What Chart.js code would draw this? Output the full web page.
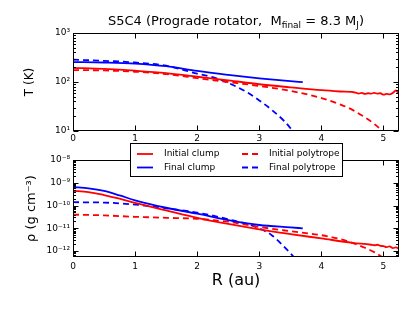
<!DOCTYPE html>
<html>
<head>
<meta charset="utf-8">
<script src="https://cdn.jsdelivr.net/npm/chart.js@4.4.1/dist/chart.umd.min.js"></script>
<style>
body { margin: 0; background: #fff; width: 415px; height: 312px; position: relative; overflow: hidden; }
canvas { position: absolute; left: 0; }
#tempChart { top: 0; }
#rhoChart { top: 140px; }
</style>
</head>
<body>
<canvas id="tempChart" width="415" height="150"></canvas>
<canvas id="rhoChart" width="415" height="172"></canvas>
<script>
// tick labels
var xTicks = [0, 1, 2, 3, 4, 5];
var tempTicks = [1e1, 1e2, 1e3];
var rhoTicks = [1e-12, 1e-11, 1e-10, 1e-9, 1e-8];

// series names (legend)
var seriesLabels = ["Initial clump", "Final clump", "Initial polytrope", "Final polytrope"];

// temperature, T (K) against R (au)
var rTempInitClump = [0, 0.5, 1, 1.5, 2, 2.5, 3, 3.5, 4, 4.3, 4.55, 4.6, 4.65, 4.7, 4.75, 4.8, 4.85, 4.9, 4.95, 5.0, 5.05, 5.1, 5.15, 5.2, 5.25];
var tempInitClump = [195, 185, 170, 152, 128, 108, 90, 78, 68, 64, 61, 58, 60, 57, 59, 58, 60, 58, 59, 55, 57, 56, 60, 67, 56];
var rTempFinalClump = [0, 0.5, 1, 1.5, 2, 2.5, 3, 3.5, 3.7];
var tempFinalClump = [255, 250, 238, 210, 168, 140, 119, 104, 99];
var rTempInitPoly = [0, 0.5, 1, 1.5, 2, 2.5, 3, 3.5, 4, 4.3, 4.5, 4.7, 4.85, 5.0, 5.1];
var tempInitPoly = [175, 172, 162, 145, 120, 100, 83, 66, 47, 35, 27, 19, 14, 9.5, 7];
var rTempFinalPoly = [0, 0.5, 1, 1.5, 2, 2.3, 2.5, 2.8, 3, 3.2, 3.4, 3.5, 3.6];
var tempFinalPoly = [285, 270, 250, 215, 148, 120, 96, 62, 42, 27, 16, 11.5, 8];

// density, rho (g cm^-3) against R (au)
var rRhoInitClump = [0, 0.25, 0.5, 0.75, 1, 1.5, 2, 2.5, 3, 3.5, 4, 4.5, 4.8, 4.85, 4.9, 4.95, 5.0, 5.05, 5.1, 5.15, 5.2, 5.25];
var rhoInitClump = [4.4e-10, 3.9e-10, 2.9e-10, 2.0e-10, 1.3e-10, 6.1e-11, 2.9e-11, 1.55e-11, 9e-12, 5.6e-12, 3.6e-12, 2.3e-12, 1.9e-12, 1.8e-12, 1.9e-12, 1.7e-12, 1.65e-12, 1.5e-12, 1.6e-12, 1.35e-12, 1.45e-12, 1.25e-12];
var rRhoFinalClump = [0, 0.25, 0.5, 0.75, 1, 1.5, 2, 2.5, 3, 3.5, 3.7];
var rhoFinalClump = [6.5e-10, 5.7e-10, 4.4e-10, 2.8e-10, 1.7e-10, 8e-11, 4.4e-11, 2.3e-11, 1.4e-11, 1.1e-11, 1.0e-11];
var rRhoInitPoly = [0, 0.5, 1, 1.5, 2, 2.5, 3, 3.5, 4, 4.3, 4.5, 4.7, 4.85, 5.0, 5.1];
var rhoInitPoly = [4e-11, 3.7e-11, 3.2e-11, 2.9e-11, 2.6e-11, 1.95e-11, 1.15e-11, 7.5e-12, 5e-12, 3.4e-12, 2.3e-12, 1.4e-12, 9e-13, 5.2e-13, 4e-13];
var rRhoFinalPoly = [0, 0.5, 1, 1.5, 2, 2.5, 3, 3.2, 3.4, 3.5, 3.6];
var rhoFinalPoly = [1.4e-10, 1.35e-10, 1.1e-10, 7.6e-11, 4.9e-11, 2.5e-11, 1e-11, 5e-12, 1.55e-12, 8e-13, 4e-13];

var FONT = '"DejaVu Sans", "Liberation Sans", sans-serif';
var RED = "#ff0000", BLUE = "#0000ff";

var supMap = { "-": "\u207b", "0": "\u2070", "1": "\u00b9", "2": "\u00b2", "3": "\u00b3", "4": "\u2074",
    "5": "\u2075", "6": "\u2076", "7": "\u2077", "8": "\u2078", "9": "\u2079" };

function powLabel(v) {
    var e = String(Math.round(Math.log10(v)));
    return "10" + e.split("").map(function (c) { return supMap[c]; }).join("");
}

function pairs(xs, ys) {
    return xs.map(function (x, i) { return { x: x, y: ys[i] }; });
}

function series(label, xs, ys, color, dashed) {
    return {
        label: label,
        data: pairs(xs, ys),
        borderColor: color,
        backgroundColor: color,
        borderWidth: 1.8,
        borderDash: dashed ? [6, 4] : [],
        pointRadius: 0,
        fill: false,
        cubicInterpolationMode: "monotone"
    };
}

// box round the plot, with inward ticks on all four sides (log minors on y)
var frameTicks = {
    id: "frameTicks",
    afterDatasetsDraw: function (chart) {
        var ctx = chart.ctx, a = chart.chartArea;
        var xs = chart.scales.x, ys = chart.scales.y;
        var L = Math.round(a.left) + 0.5, R = Math.round(a.right) - 0.5;
        var T = Math.round(a.top) + 0.5, B = Math.round(a.bottom) - 0.5;
        ctx.save();
        ctx.strokeStyle = "#000";
        ctx.lineWidth = 1;
        ctx.beginPath();
        xTicks.forEach(function (v) {
            var px = Math.round(xs.getPixelForValue(v)) + 0.5;
            ctx.moveTo(px, B); ctx.lineTo(px, B - 5);
            ctx.moveTo(px, T); ctx.lineTo(px, T + 5);
        });
        var lo = Math.floor(Math.log10(ys.min)), hi = Math.ceil(Math.log10(ys.max));
        for (var e = lo; e <= hi; e++) {
            for (var k = 1; k < 10; k++) {
                var v = k * Math.pow(10, e);
                if (v < ys.min * 0.999 || v > ys.max * 1.001) continue;
                var py = Math.round(ys.getPixelForValue(v)) + 0.5;
                var len = k === 1 ? 5 : 2.5;
                ctx.moveTo(L, py); ctx.lineTo(L + len, py);
                ctx.moveTo(R, py); ctx.lineTo(R - len, py);
            }
        }
        ctx.stroke();
        ctx.strokeRect(L, T, R - L, B - T);
        ctx.restore();
    }
};

// title with subscripts
var titleParts = [
    { t: "S5C4 (Prograde rotator,  M" },
    { t: "final", sub: true },
    { t: " = 8.3 M" },
    { t: "J", sub: true },
    { t: ")" }
];
var subTitle = {
    id: "subTitle",
    afterDraw: function (chart) {
        var ctx = chart.ctx, a = chart.chartArea;
        ctx.save();
        ctx.fillStyle = "#000";
        ctx.textBaseline = "alphabetic";
        var w = 0;
        titleParts.forEach(function (p) {
            ctx.font = (p.sub ? "9px " : "13px ") + FONT;
            p.w = ctx.measureText(p.t).width;
            w += p.w;
        });
        var x = (a.left + a.right) / 2 - w / 2;
        titleParts.forEach(function (p) {
            ctx.font = (p.sub ? "9px " : "13px ") + FONT;
            ctx.fillText(p.t, x, p.sub ? 28 : 25);
            x += p.w;
        });
        ctx.restore();
    }
};

// legend box sitting across the gap between the panels
var rhoLegend = {
    id: "rhoLegend",
    afterDraw: function (chart) {
        var ctx = chart.ctx;
        ctx.save();
        ctx.fillStyle = "#fff";
        ctx.fillRect(130.5, 3.5, 212, 33);
        ctx.strokeStyle = "#000";
        ctx.lineWidth = 1;
        ctx.strokeRect(130.5, 3.5, 212, 33);
        ctx.font = "9px " + FONT;
        ctx.textBaseline = "middle";
        chart.data.datasets.forEach(function (ds, i) {
            var x0 = 137 + Math.floor(i / 2) * 105, y0 = 14 + (i % 2) * 13.5;
            ctx.strokeStyle = ds.borderColor;
            ctx.lineWidth = ds.borderWidth;
            ctx.setLineDash(ds.borderDash);
            ctx.beginPath(); ctx.moveTo(x0, y0); ctx.lineTo(x0 + 16, y0); ctx.stroke();
            ctx.setLineDash([]);
            ctx.fillStyle = "#000";
            ctx.fillText(ds.label, x0 + 27, y0);
        });
        ctx.restore();
    }
};

function xScale(height, pad, title) {
    return {
        type: "linear", min: 0, max: 5.25, bounds: "data",
        grid: { display: false, drawTicks: false }, border: { display: false },
        afterBuildTicks: function (s) { s.ticks = xTicks.map(function (v) { return { value: v }; }); },
        afterFit: function (s) { s.height = height; },
        ticks: { padding: pad, color: "#000", font: { family: FONT, size: 9 }, maxRotation: 0 },
        title: title
    };
}

function yScale(min, max, tickVals, title) {
    return {
        type: "logarithmic", min: min, max: max, bounds: "data",
        grid: { display: false, drawTicks: false }, border: { display: false },
        afterBuildTicks: function (s) { s.ticks = tickVals.map(function (v) { return { value: v }; }); },
        afterFit: function (s) { s.width = 73; },
        ticks: { padding: 3, color: "#000", font: { family: FONT, size: 9 }, callback: function (v) { return powLabel(v); } },
        title: title
    };
}

var tempChart = new Chart(document.getElementById("tempChart"), {
    type: "line",
    data: {
        datasets: [
            series(seriesLabels[0], rTempInitClump, tempInitClump, RED, false),
            series(seriesLabels[1], rTempFinalClump, tempFinalClump, BLUE, false),
            series(seriesLabels[2], rTempInitPoly, tempInitPoly, RED, true),
            series(seriesLabels[3], rTempFinalPoly, tempFinalPoly, BLUE, true)
        ]
    },
    options: {
        responsive: false,
        animation: false,
        layout: { padding: { left: 0, right: 16, top: 33, bottom: 0 } },
        plugins: { legend: { display: false }, tooltip: { enabled: false } },
        scales: {
            x: xScale(19, 2),
            y: yScale(10, 1000, tempTicks, { display: true, text: "T (K)", color: "#000", font: { family: FONT, size: 12 }, padding: { top: 23, bottom: 0 } })
        }
    },
    plugins: [frameTicks, subTitle]
});

var rhoChart = new Chart(document.getElementById("rhoChart"), {
    type: "line",
    data: {
        datasets: [
            series(seriesLabels[0], rRhoInitClump, rhoInitClump, RED, false),
            series(seriesLabels[1], rRhoFinalClump, rhoFinalClump, BLUE, false),
            series(seriesLabels[2], rRhoInitPoly, rhoInitPoly, RED, true),
            series(seriesLabels[3], rRhoFinalPoly, rhoFinalPoly, BLUE, true)
        ]
    },
    options: {
        responsive: false,
        animation: false,
        layout: { padding: { left: 0, right: 16, top: 20, bottom: 0 } },
        plugins: { legend: { display: false }, tooltip: { enabled: false } },
        scales: {
            x: xScale(55, 4, { display: true, text: "R (au)", color: "#000", font: { family: FONT, size: 16 }, padding: { top: 0, bottom: 22 } }),
            y: yScale(5.5e-13, 1e-8, rhoTicks, { display: true, text: "\u03c1 (g cm\u207b\u00b3)", color: "#000", font: { family: FONT, size: 13 }, padding: { top: 24, bottom: 0 } })
        }
    },
    plugins: [frameTicks, rhoLegend]
});
</script>
</body>
</html>
